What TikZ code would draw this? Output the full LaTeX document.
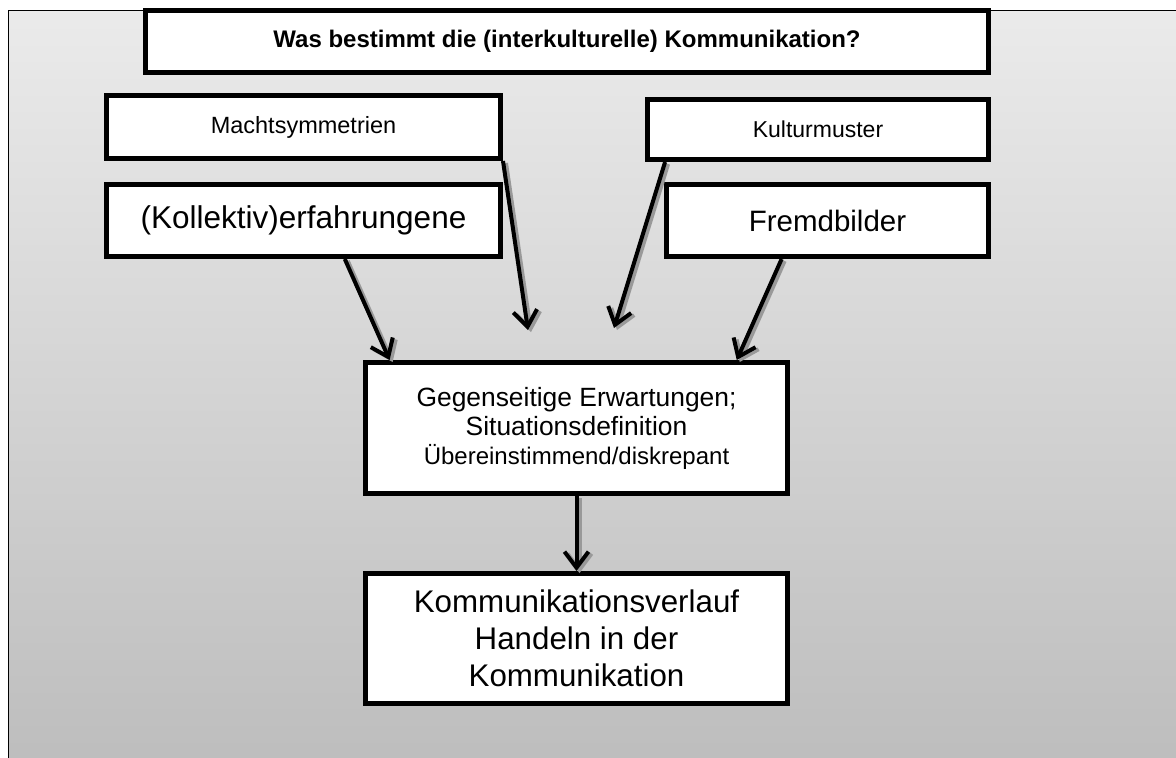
\documentclass[tikz,border=0pt]{standalone}
\usepackage{fontspec}
\setmainfont{Liberation Sans}
\usetikzlibrary{arrows.meta}
\tikzset{
	kasten/.style = {draw, line width=5pt, fill=white, align=center, inner sep=0pt},
	pfeil/.style = {line width=4pt, -{Straight Barb[length=16pt, width=24pt]}},
	schatten/.style = {pfeil, draw=black!40, transform canvas={shift={(3pt,-2pt)}}}
}

\begin{document}
\begin{tikzpicture}[x=1pt, y=-1pt]
		\useasboundingbox (0,0) rectangle (1176,758);
		% Hintergrund
		\draw[line width=1.5pt, top color=black!8, bottom color=black!26] (8.5,10.5) rectangle (1190,772);
		
		% Frage
		\node[kasten, minimum width=843pt, minimum height=62pt, font=\bfseries\fontsize{24}{28}\selectfont] (frage) at (567,41.5) {Was bestimmt die (interkulturelle) Kommunikation?};
		
		% Einflüsse
		\node[kasten, minimum width=394pt, minimum height=63pt, font=\fontsize{23.5}{27}\selectfont] (macht) at (303.5,127) {Machtsymmetrien};
		\node[kasten, minimum width=394pt, minimum height=72pt, font=\fontsize{31.5}{36}\selectfont] (kollektiv) at (303.5,220.5) {(Kollektiv)erfahrungene};
		\node[kasten, minimum width=341pt, minimum height=60pt, font=\fontsize{23}{27}\selectfont] (kultur) at (818,129.5) {Kulturmuster};
		\node[kasten, minimum width=322pt, minimum height=72pt, font=\fontsize{29.5}{34}\selectfont] (fremd) at (827.5,220.5) {Fremdbilder};
		
		% Erwartungen und Verlauf
		\node[kasten, minimum width=422pt, minimum height=131pt, font=\fontsize{26.4}{29}\selectfont] (mitte) at (576.5,428) {Gegenseitige Erwartungen;\\Situationsdefinition\\{\fontsize{24}{29}\selectfont Übereinstimmend/diskrepant}};
		\node[kasten, minimum width=422pt, minimum height=130pt, font=\fontsize{31.3}{37}\selectfont] (verlauf) at (576.5,638.5) {Kommunikationsverlauf\\Handeln in der\\Kommunikation};
		
		% freie Pfeilenden
		\coordinate (machtende) at (528,330);
		\coordinate (kulturende) at (614,328);
		
		% Pfeile
		\foreach \von/\nach in {kollektiv.317/mitte.160, macht.south east/machtende, kultur.192/kulturende, fremd.220/mitte.23, mitte.south/verlauf.north}
		{
			\draw[schatten] (\von) -- (\nach);
			\draw[pfeil] (\von) -- (\nach);
		}
	\end{tikzpicture}
\end{document}
